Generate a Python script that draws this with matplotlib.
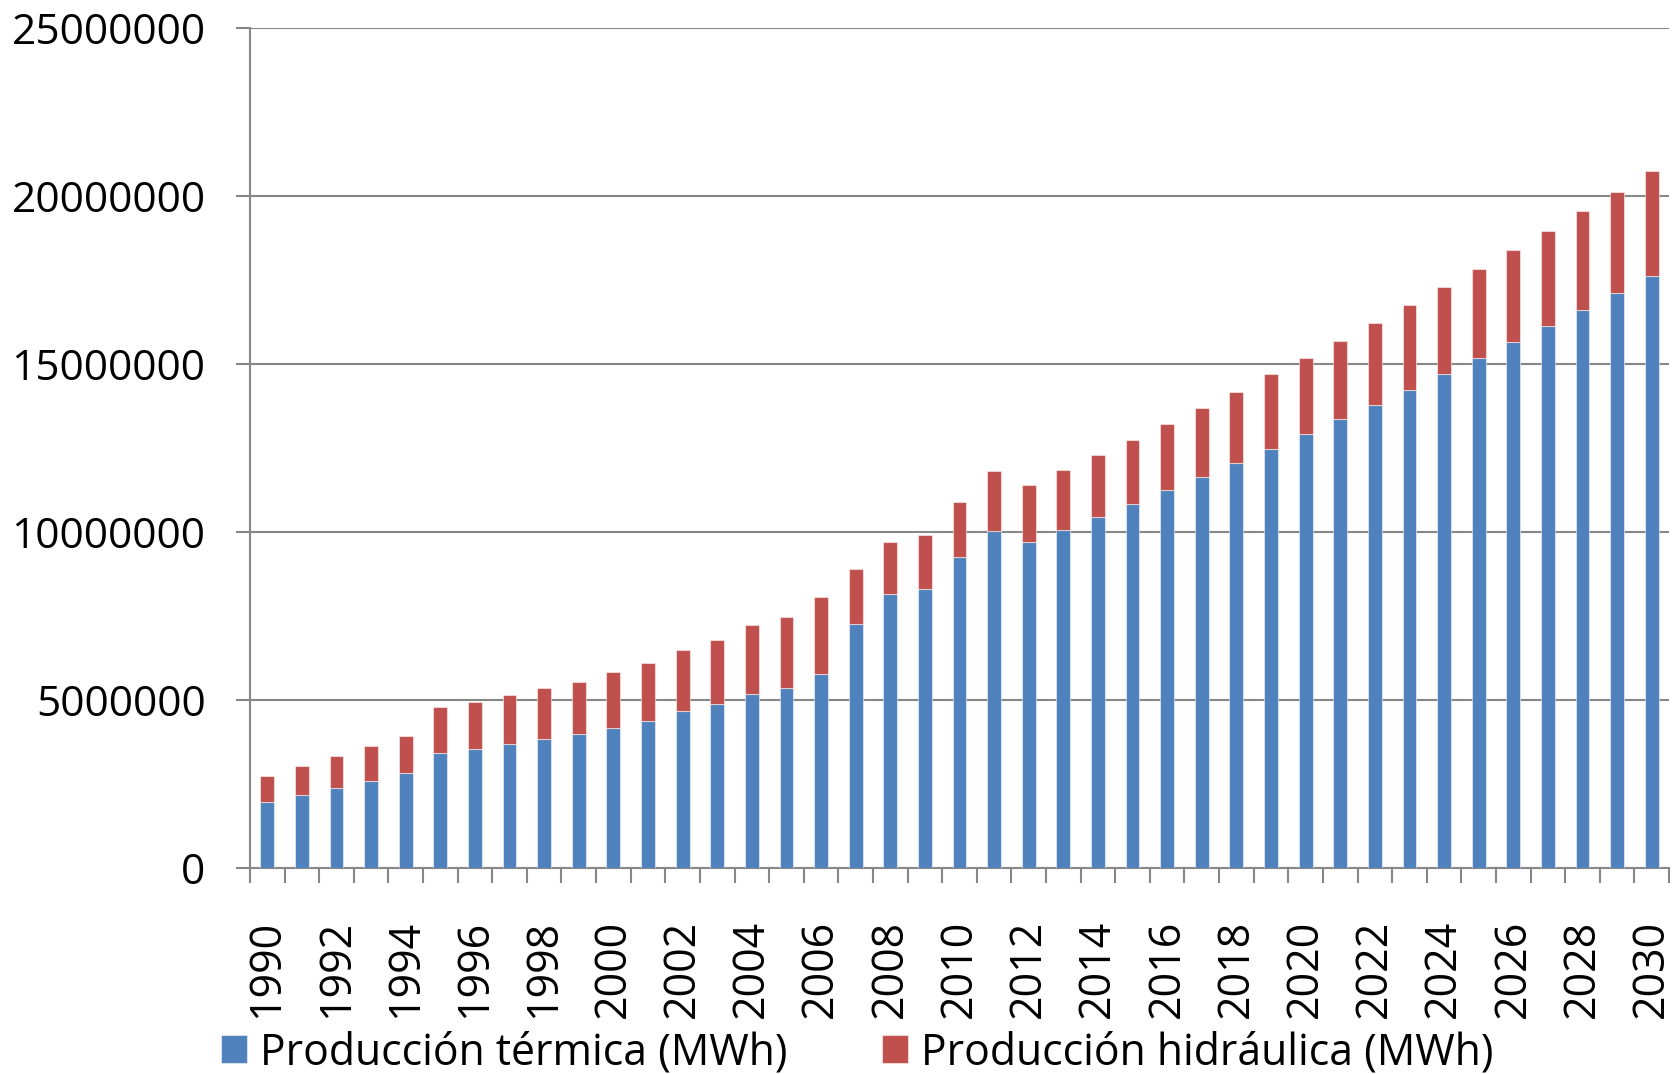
import numpy as np
import matplotlib.pyplot as plt
from matplotlib.ticker import FixedLocator, NullFormatter

plt.rcParams['font.family'] = ['Open Sans', 'DejaVu Sans']

years = list(range(1990, 2031))

# producción anual en MWh
termica = [1970000, 2170000, 2390000, 2600000, 2820000, 3430000, 3540000, 3700000,
           3850000, 3980000, 4180000, 4380000, 4660000, 4890000, 5190000, 5360000,
           5770000, 7270000, 8160000, 8290000, 9250000, 10040000, 9700000, 10070000,
           10450000, 10840000, 11260000, 11650000, 12060000, 12480000, 12920000,
           13350000, 13790000, 14240000, 14710000, 15170000, 15650000, 16140000,
           16610000, 17120000, 17630000]
hidraulica = [780000, 860000, 940000, 1030000, 1110000, 1350000, 1390000, 1450000,
              1510000, 1560000, 1640000, 1730000, 1830000, 1910000, 2050000, 2110000,
              2300000, 1630000, 1550000, 1630000, 1650000, 1770000, 1700000, 1780000,
              1850000, 1910000, 1960000, 2050000, 2120000, 2210000, 2260000, 2340000,
              2420000, 2510000, 2590000, 2670000, 2750000, 2830000, 2930000, 3010000,
              3100000]
yticks = [0, 5000000, 10000000, 15000000, 20000000, 25000000]

labels = ['Producción térmica (MWh)', 'Producción hidráulica (MWh)']
colors = ['#4F81BD', '#C0504D']
grid_color = '#878787'

fig = plt.figure(figsize=(16.76, 10.74), dpi=100)
ax = fig.add_axes([250 / 1676, 1 - 868 / 1074, 1419 / 1676, 840 / 1074])

x = np.arange(len(years))
edge = (1, 1, 1, 0.5)
b1 = ax.bar(x, termica, width=0.4, color=colors[0], edgecolor=edge, linewidth=0.8,
            label=labels[0], zorder=3)
b2 = ax.bar(x, hidraulica, width=0.4, bottom=termica, color=colors[1], edgecolor=edge,
            linewidth=0.8, label=labels[1], zorder=3)

ax.set_xlim(-0.5, len(years) - 0.5)
ax.set_ylim(0, 25000000)

# eje y
ax.set_yticks(yticks)
ax.set_yticklabels([str(v) for v in yticks])
ax.yaxis.grid(True, color=grid_color, linewidth=1.5, zorder=0)
ax.tick_params(axis='y', length=10, width=1.5, color=grid_color, pad=22, labelsize=30.5)

# eje x: marcas entre categorías, etiquetas cada dos años
ax.xaxis.set_major_locator(FixedLocator(np.arange(-0.5, len(years), 1.0)))
ax.xaxis.set_major_formatter(NullFormatter())
ax.set_xticks(x[::2], minor=True)
ax.set_xticklabels([str(y) for y in years[::2]], minor=True, rotation=90)
ax.tick_params(axis='x', which='major', length=11, width=1.5, color=grid_color)
ax.tick_params(axis='x', which='minor', length=0, pad=37, labelsize=31)

for side in ['top', 'right']:
    ax.spines[side].set_visible(False)
for side in ['left', 'bottom']:
    ax.spines[side].set_color(grid_color)
    ax.spines[side].set_linewidth(1.5)

fig.legend(handles=[b1, b2], labels=labels, loc='center',
           bbox_to_anchor=(857 / 1676, 1 - 1053 / 1074), ncol=2, frameon=False,
           fontsize=30.8, handlelength=0.62, handleheight=0.62, handletextpad=0.3,
           columnspacing=2.2, borderpad=0)

fig.savefig('out.png', dpi=100)
